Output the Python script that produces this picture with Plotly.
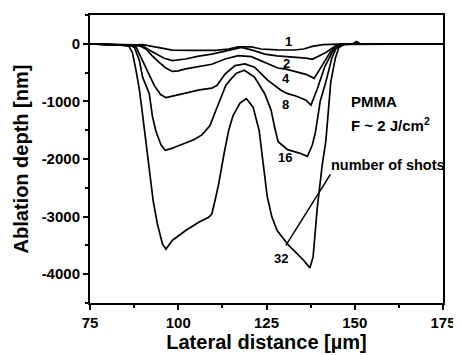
import plotly.graph_objects as go

# ---- data ----
x1 = [75, 80, 85, 88, 90, 92, 94.6, 98.3, 104, 110.5, 114.2, 117, 120.7, 123.5, 128, 132.9, 135.5, 138, 141, 144.6, 148, 175]
y1 = [0, -10, -25, -20, -15, -35, -64, -110, -115, -115, -90, -55, -55, -90, -105, -108, -90, -45, -15, -5, 0, 0]

x2 = [75, 80, 85, 88, 89.9, 91.5, 93.7, 96, 98.3, 102.1, 105.8, 109.5, 114.2, 117.9, 121, 124.5, 128, 132.4, 136.2, 138, 140, 141.8, 144.6, 146, 175]
y2 = [0, -10, -25, -20, -35, -100, -179, -250, -292, -264, -215, -180, -115, -64, -110, -178, -210, -225, -250, -270, -210, -150, -35, 0, 0]

x4 = [75, 80, 85, 87, 89, 90.9, 92.5, 94.6, 96.5, 98.3, 100, 102.1, 105.8, 109.5, 113.3, 117, 120.7, 124.5, 128.2, 130.5, 132.4, 136.2, 138.5, 140.8, 143, 144.6, 146, 175]
y4 = [0, -10, -25, -25, -30, -93, -200, -321, -420, -480, -470, -436, -395, -355, -264, -206, -223, -321, -420, -440, -470, -530, -600, -378, -150, -50, 0, 0]

x8 = [75, 80, 85, 86.5, 88.1, 89.9, 91.5, 93.2, 95, 96.5, 99, 102, 106, 109.5, 111, 113.3, 116.1, 118.9, 121.6, 125.4, 129.1, 131, 133.5, 136.2, 137.6, 139.4, 141.5, 143.6, 145, 147, 175]
y8 = [0, -10, -25, -25, -64, -292, -520, -722, -880, -935, -900, -860, -800, -770, -720, -522, -378, -350, -407, -636, -807, -866, -910, -979, -1065, -780, -400, -150, -35, 0, 0]

x16 = [75, 80, 85, 86.5, 87.6, 89, 89.9, 91.8, 92.7, 93.7, 95.1, 96.3, 97.9, 101.6, 104.4, 106.7, 109, 110.5, 112, 113.5, 115.1, 116.5, 118.7, 121.6, 124.5, 126.3, 127.3, 128.3, 131, 134.3, 136.6, 138, 138.9, 140.2, 141.8, 143.5, 144.6, 146, 149.5, 150.5, 151.5, 175]
y16 = [0, -10, -25, -30, -64, -292, -579, -866, -1266, -1524, -1752, -1850, -1821, -1725, -1666, -1581, -1420, -1180, -950, -720, -600, -510, -460, -579, -866, -1151, -1450, -1700, -1838, -1897, -1953, -1752, -1524, -1000, -665, -250, -93, -20, 0, 40, 0, 0]

x32 = [75, 80, 84, 86, 87, 88, 89, 89.8, 91, 92.2, 92.9, 94.1, 95.5, 96.5, 98.3, 102.1, 105.8, 108.6, 109.5, 110.5, 111.4, 113, 114.3, 115.5, 117.5, 119.3, 121.2, 122.9, 124.2, 125.2, 126.5, 128, 131.3, 135.5, 137.3, 138.2, 139.4, 140.8, 141.8, 143.2, 144.5, 145.5, 147, 175]
y32 = [0, -10, -25, -40, -150, -450, -800, -1180, -1750, -2383, -2726, -3128, -3470, -3568, -3414, -3242, -3099, -3013, -2955, -2700, -2450, -1900, -1500, -1250, -1030, -952, -1100, -1500, -2100, -2650, -3000, -3242, -3500, -3757, -3890, -3700, -2841, -2096, -1696, -665, -250, -64, -10, 0]

series_x = [x1, x2, x4, x8, x16, x32]
series_y = [y1, y2, y4, y8, y16, y32]

shot_labels = ["1", "2", "4", "8", "16", "32"]
label_x = [131.3, 130.8, 130.5, 130.4, 130.1, 129.2]
label_y = [40, -338, -596, -1055, -1970, -3728]

x_ticks = [75, 100, 125, 150, 175]
y_ticks = [-4000, -3000, -2000, -1000, 0]
y_ticktext = ["-4000", "-3000", "-2000", "-1000", "0"]
y_minor = [-4500, -3500, -2500, -1500, -500, 500]
x_minor = [87.5, 112.5, 137.5, 162.5]

pointer_x = [143.1, 130.5]
pointer_y = [-2268, -3500]

FONT = "Liberation Sans"

fig = go.Figure()
for xs, ys in zip(series_x, series_y):
    fig.add_trace(go.Scatter(x=xs, y=ys, mode="lines",
                             line=dict(color="black", width=1.7),
                             showlegend=False, hoverinfo="skip"))

fig.add_trace(go.Scatter(x=pointer_x, y=pointer_y, mode="lines",
                         line=dict(color="black", width=1.5),
                         showlegend=False, hoverinfo="skip"))

for t, lx, ly in zip(shot_labels, label_x, label_y):
    fig.add_annotation(x=lx, y=ly, text=t, showarrow=False,
                       font=dict(family=FONT, size=13, color="black", weight="bold"))

fig.add_annotation(x=148.3, y=-1008, text="PMMA", showarrow=False, xanchor="left",
                   font=dict(family=FONT, size=15, color="black", weight="bold"))
fig.add_annotation(x=148.3, y=-1409, text="F ~ 2 J/cm<sup>2</sup>", showarrow=False, xanchor="left",
                   font=dict(family=FONT, size=15, color="black", weight="bold"))
fig.add_annotation(x=142.7, y=-2096, text="number of shots", showarrow=False, xanchor="left",
                   font=dict(family=FONT, size=14.5, color="black", weight="bold"))

fig.update_xaxes(range=[75, 175], tickmode="array", tickvals=x_ticks,
                 ticks="outside", ticklen=5, tickwidth=1.5, tickcolor="black",
                 showline=True, linewidth=2, linecolor="black", mirror=True,
                 showgrid=False, zeroline=False,
                 minor=dict(tickmode="array", tickvals=x_minor, ticks="outside", ticklen=3, tickwidth=1.5, tickcolor="black"),
                 tickfont=dict(family=FONT, size=15, color="black", weight="bold"),
                 title=dict(text="Lateral distance [µm]", standoff=5,
                            font=dict(family=FONT, size=20, color="black", weight="bold")))
fig.update_yaxes(range=[-4500, 500], tickmode="array", tickvals=y_ticks, ticktext=y_ticktext,
                 ticks="outside", ticklen=5, tickwidth=1.5, tickcolor="black",
                 showline=True, linewidth=2, linecolor="black", mirror=True,
                 showgrid=False, zeroline=False,
                 minor=dict(tickmode="array", tickvals=y_minor, ticks="outside", ticklen=3, tickwidth=1.5, tickcolor="black"),
                 tickfont=dict(family=FONT, size=15, color="black", weight="bold"),
                 title=dict(text="Ablation depth [nm]", standoff=8,
                            font=dict(family=FONT, size=20, color="black", weight="bold")))

fig.update_layout(width=453, height=347, margin=dict(l=82, r=14, t=5, b=52),
                  paper_bgcolor="white", plot_bgcolor="white")

fig.write_html("out.html")
